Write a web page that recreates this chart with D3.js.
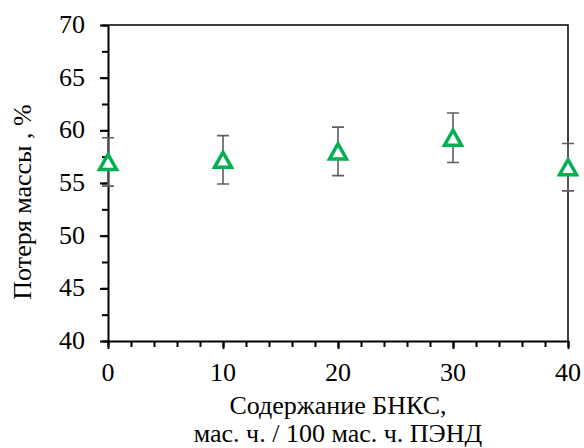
<!DOCTYPE html>
<html>
<head>
<meta charset="utf-8">
<script src="https://cdn.jsdelivr.net/npm/d3@7"></script>
<style>
    html, body { margin: 0; padding: 0; background: #fff; }
    #wrapper { position: relative; width: 584px; height: 448px; }
    #wrapper svg { position: absolute; left: 0; top: 0; }
    .label {
        position: absolute;
        font-family: "Liberation Serif", "Times New Roman", serif !important;
        font-size: 26px;
        line-height: 1;
        white-space: nowrap;
        color: #000;
    }
</style>
</head>
<body>
<div id="wrapper"></div>
<script>
// Data
const contents = [0, 10, 20, 30, 40];
const massLoss = [57.0, 57.2, 58.0, 59.3, 56.5];
const errors = [2.3, 2.3, 2.3, 2.35, 2.25];
const xTicks = [0, 10, 20, 30, 40];
const yTicks = [40, 45, 50, 55, 60, 65, 70];
const yTitle = "Потеря массы , %";
const xTitle = ["Содержание БНКС,", "мас. ч. / 100 мас. ч. ПЭНД"];

// Dimensions
const dimensions = (() => {
    let dimensions = {
        width: 584,
        height: 448,
        margin: { top: 25, right: 16, bottom: 107, left: 108 },
    };
    dimensions.boundedWidth = dimensions.width - dimensions.margin.left - dimensions.margin.right;
    dimensions.boundedHeight = dimensions.height - dimensions.margin.top - dimensions.margin.bottom;
    return dimensions;
})();

const FONT = "Liberation Serif";

function drawChart() {
    const dataset = contents.map((c, i) => ({ x: c, y: massLoss[i], err: errors[i] }));
    const { margin } = dimensions;

    const container = d3.select("#wrapper");
    const wrapper = container
        .append("svg")
        .attr("width", dimensions.width)
        .attr("height", dimensions.height);

    const bounds = wrapper.append("g")
        .attr("transform", `translate(${margin.left},${margin.top})`);

    // Scales
    const xScale = d3.scaleLinear()
        .domain([0, 40])
        .range([0, dimensions.boundedWidth]);

    const yScale = d3.scaleLinear()
        .domain([40, 70])
        .range([dimensions.boundedHeight, 0]);

    // Frame (top and right)
    bounds.append("path")
        .attr("d", `M0,0H${dimensions.boundedWidth}V${dimensions.boundedHeight}`)
        .attr("fill", "none")
        .attr("stroke", "#000")
        .attr("stroke-width", 1.5);

    // Minor ticks
    const yMinor = d3.range(40, 70.01, 2.5);
    bounds.append("g")
        .call(d3.axisLeft(yScale).tickValues(yMinor).tickSize(6).tickFormat(""))
        .call(g => g.select(".domain").remove())
        .selectAll("line").attr("stroke-width", 2);

    const xMinor = d3.range(0, 40.01, 2);
    bounds.append("g")
        .attr("transform", `translate(0,${dimensions.boundedHeight})`)
        .call(d3.axisBottom(xScale).tickValues(xMinor).tickSize(6).tickFormat(""))
        .call(g => g.select(".domain").remove())
        .selectAll("line").attr("stroke-width", 2);

    // Major axes (labels are drawn as html text below)
    const yAxis = bounds.append("g")
        .call(d3.axisLeft(yScale).tickValues(yTicks).tickSize(8).tickFormat("").tickSizeOuter(0));
    yAxis.select(".domain").attr("stroke-width", 2);
    yAxis.selectAll("line").attr("stroke-width", 2);

    const xAxis = bounds.append("g")
        .attr("transform", `translate(0,${dimensions.boundedHeight})`)
        .call(d3.axisBottom(xScale).tickValues(xTicks).tickSize(8).tickFormat("").tickSizeOuter(0));
    xAxis.select(".domain").attr("stroke-width", 2);
    xAxis.selectAll("line").attr("stroke-width", 2);

    // Error bars
    const errG = bounds.append("g")
        .attr("stroke", "#5f5f5f")
        .attr("stroke-width", 1.6)
        .attr("fill", "none");
    errG.selectAll("path")
        .data(dataset)
        .join("path")
        .attr("d", d => {
            const x = xScale(d.x);
            const y0 = yScale(d.y - d.err);
            const y1 = yScale(d.y + d.err);
            return `M${x},${y0}V${y1}M${x - 6},${y1}H${x + 6}M${x - 6},${y0}H${x + 6}`;
        });

    // Markers
    const tri = "M0,-8L8.5,7L-8.5,7Z";
    bounds.append("g")
        .selectAll("path")
        .data(dataset)
        .join("path")
        .attr("transform", d => `translate(${xScale(d.x)},${yScale(d.y) + 0.5})`)
        .attr("d", tri)
        .attr("fill", "#fff")
        .attr("stroke", "#00b050")
        .attr("stroke-width", 3.5)
        .attr("stroke-linejoin", "miter");

    // Tick labels
    container.selectAll(".ytick")
        .data(yTicks)
        .join("div")
        .attr("class", "label ytick")
        .style("left", "85px")
        .style("top", d => `${margin.top + yScale(d)}px`)
        .style("transform", "translate(-100%, -50%)")
        .text(d => d);

    container.selectAll(".xtick")
        .data(xTicks)
        .join("div")
        .attr("class", "label xtick")
        .style("left", d => `${margin.left + xScale(d)}px`)
        .style("top", "373px")
        .style("transform", "translate(-50%, -50%)")
        .text(d => d);

    // Axis titles
    container.append("div")
        .attr("class", "label")
        .style("left", "23px")
        .style("top", "202px")
        .style("transform", "translate(-50%, -50%) rotate(-90deg)")
        .text(yTitle);

    container.selectAll(".xtitle")
        .data(xTitle)
        .join("div")
        .attr("class", "label xtitle")
        .style("left", `${margin.left + dimensions.boundedWidth / 2}px`)
        .style("top", (d, i) => `${393 + i * 28}px`)
        .style("transform", "translateX(-50%)")
        .text(d => d);

    container.selectAll(".label")
        .style("font-family", FONT, "important");
}
drawChart();
</script>
</body>
</html>
